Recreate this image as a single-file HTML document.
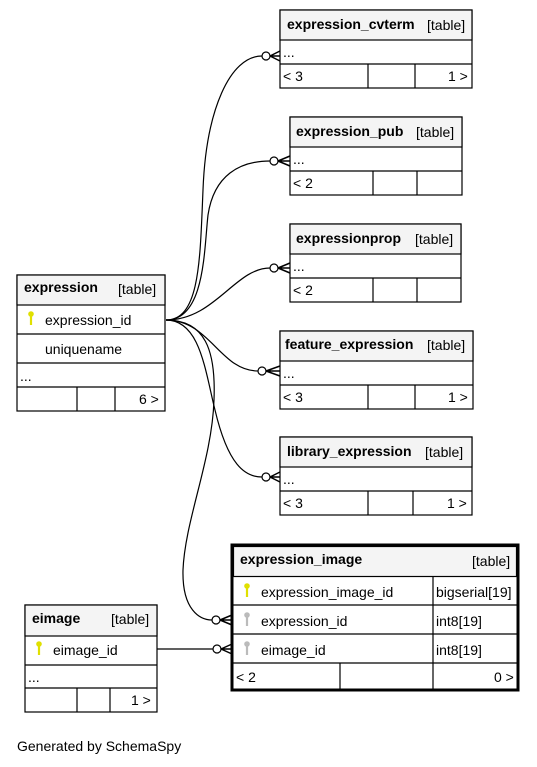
<!DOCTYPE html>
<html><head><meta charset="utf-8"><style>
html,body{margin:0;padding:0;background:#fff;}
svg{display:block;}
text{font-family:"Liberation Sans",sans-serif;font-size:14px;fill:#000;}
.b{font-weight:bold;font-size:14px;}
</style></head><body>
<svg width="537" height="767" viewBox="0 0 537 767" xmlns="http://www.w3.org/2000/svg">
<defs>
<g id="ky"><circle cx="0" cy="0" r="2.8" fill="currentColor"/><rect x="-1.1" y="0" width="2.2" height="11" fill="currentColor"/></g>
</defs>
<g fill="none" stroke="#000" stroke-width="1.2">
<path d="M166,320 C200,320 200,260 203,190 C206,110 230,56 262,56"/>
<path d="M166,320 C205,320 204,250 208,215 C214,175 240,161 270,161"/>
<path d="M166,320 C215,320 235,268 270,268"/>
<path d="M166,320 C210,320 220,371 258,371"/>
<path d="M166,320 C200,320 205,370 215,410 C228,465 245,477 262,477"/>
<path d="M166,320 C205,320 216,350 214,400 C212,460 185,520 183,570 C182,610 200,620 212,620"/>
<path d="M157,649 L213,649"/>
</g>
<g fill="#fff" stroke="#000" stroke-width="1.2">
<circle cx="266" cy="56" r="4"/><circle cx="274" cy="161" r="4"/><circle cx="274" cy="268" r="4"/>
<circle cx="262" cy="371" r="4"/><circle cx="266" cy="477" r="4"/><circle cx="216" cy="620" r="4"/><circle cx="217" cy="649" r="4"/>
</g>
<g stroke="#000" stroke-width="1.5" fill="none">
<path d="M270,56 L280,51 M270,56 L280,56 M270,56 L280,61"/>
<path d="M278,161 L290,156 M278,161 L290,161 M278,161 L290,166"/>
<path d="M278,268 L290,263 M278,268 L290,268 M278,268 L290,273"/>
<path d="M266,371 L280,366 M266,371 L280,371 M266,371 L280,376"/>
<path d="M270,477 L280,472 M270,477 L280,477 M270,477 L280,482"/>
<path d="M220,620 L232,615 M220,620 L232,620 M220,620 L232,625"/>
<path d="M221,649 L232,644 M221,649 L232,649 M221,649 L232,654"/>
</g>

<g stroke="#000" stroke-width="1.2">
<rect x="280" y="10" width="192" height="78" fill="#fff"/><rect x="280" y="10" width="192" height="30" fill="#f4f4f4"/>
<path d="M280,64 H472 M368,64 V88 M415,64 V88"/>
<rect x="290" y="117" width="172" height="78" fill="#fff"/><rect x="290" y="117" width="172" height="30" fill="#f4f4f4"/>
<path d="M290,171 H462 M373,171 V195 M417,171 V195"/>
<rect x="290" y="224" width="171" height="78" fill="#fff"/><rect x="290" y="224" width="171" height="30" fill="#f4f4f4"/>
<path d="M290,278 H461 M373,278 V302 M417,278 V302"/>
<rect x="280" y="331" width="193" height="78" fill="#fff"/><rect x="280" y="331" width="193" height="30" fill="#f4f4f4"/>
<path d="M280,385 H473 M368,385 V409 M415,385 V409"/>
<rect x="280" y="437" width="192" height="78" fill="#fff"/><rect x="280" y="437" width="192" height="30" fill="#f4f4f4"/>
<path d="M280,491 H472 M368,491 V515 M413,491 V515"/>
<rect x="17" y="275" width="148" height="136" fill="#fff"/><rect x="17" y="275" width="148" height="30" fill="#f4f4f4"/>
<path d="M17,334 H165 M17,363 H165 M17,387 H165 M77,387 V411 M115,387 V411"/>
<rect x="25" y="605" width="132" height="107" fill="#fff"/><rect x="25" y="605" width="132" height="31" fill="#f4f4f4"/>
<path d="M25,665 H157 M25,688 H157 M77,688 V712 M110,688 V712"/>
</g>
<rect x="232" y="545" width="286" height="145" fill="#fff" stroke="#000" stroke-width="3"/>
<rect x="233.5" y="546.5" width="283" height="30" fill="#f4f4f4" stroke="#000" stroke-width="1.2"/>
<path d="M232,605 H518 M232,634 H518 M232,663 H518 M433,576 V690 M340,663 V690" stroke="#000" stroke-width="1.2"/>

<g>
<text x="287" y="29" class="b">expression_cvterm</text><text x="427" y="30">[table]</text>
<text x="283" y="57">...</text><text x="283" y="81">&lt; 3</text><text x="448" y="81">1 &gt;</text>
<text x="296" y="136" class="b">expression_pub</text><text x="416" y="137">[table]</text>
<text x="293" y="164">...</text><text x="293" y="188">&lt; 2</text>
<text x="296" y="243" class="b">expressionprop</text><text x="415" y="244">[table]</text>
<text x="293" y="271">...</text><text x="293" y="295">&lt; 2</text>
<text x="285" y="349" class="b">feature_expression</text><text x="427" y="350">[table]</text>
<text x="283" y="378">...</text><text x="283" y="402">&lt; 3</text><text x="448" y="402">1 &gt;</text>
<text x="287" y="456" class="b">library_expression</text><text x="425" y="457">[table]</text>
<text x="283" y="484">...</text><text x="283" y="508">&lt; 3</text><text x="447" y="508">1 &gt;</text>

<text x="24" y="292" class="b">expression</text><text x="118" y="294">[table]</text>
<text x="45" y="325">expression_id</text><text x="45" y="354">uniquename</text>
<text x="20" y="381">...</text><text x="139" y="404">6 &gt;</text>

<text x="32" y="623" class="b">eimage</text><text x="111" y="624">[table]</text>
<text x="53" y="655">eimage_id</text><text x="28" y="682">...</text><text x="131" y="705">1 &gt;</text>

<text x="240" y="564" class="b">expression_image</text><text x="472" y="566">[table]</text>
<text x="261" y="597">expression_image_id</text><text x="436" y="597">bigserial[19]</text>
<text x="261" y="626">expression_id</text><text x="436" y="626">int8[19]</text>
<text x="261" y="655">eimage_id</text><text x="436" y="655">int8[19]</text>
<text x="236" y="682">&lt; 2</text><text x="494" y="682">0 &gt;</text>

<text x="17" y="751">Generated by SchemaSpy</text>
</g>
<use href="#ky" x="31" y="314" style="color:#e0e000"/>
<use href="#ky" x="39" y="644" style="color:#e0e000"/>
<use href="#ky" x="247" y="586" style="color:#e0e000"/>
<use href="#ky" x="247" y="615" style="color:#bbbbbb"/>
<use href="#ky" x="247" y="644" style="color:#bbbbbb"/>
</svg>
</body></html>
